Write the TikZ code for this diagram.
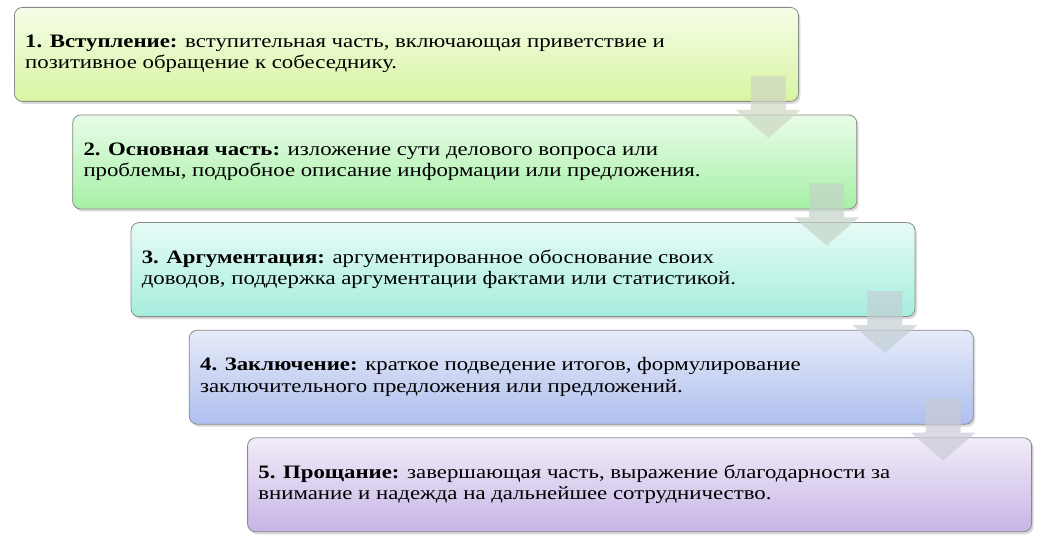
\documentclass[tikz,border=0pt]{standalone}
\usepackage{fontspec}
\setmainfont{Liberation Serif}[FakeStretch=1.2]
\usetikzlibrary{shadows}
\definecolor{c1t}{HTML}{F5FDE8}\definecolor{c1b}{HTML}{D8F5A2}
\definecolor{c2t}{HTML}{E8FCE8}\definecolor{c2b}{HTML}{A6F0A6}
\definecolor{c3t}{HTML}{E6FBF6}\definecolor{c3b}{HTML}{A6EEDD}
\definecolor{c4t}{HTML}{E6EBF9}\definecolor{c4b}{HTML}{AFBFEE}
\definecolor{c5t}{HTML}{F2ECF8}\definecolor{c5b}{HTML}{C6B5E6}
\definecolor{a1}{RGB}{205,215,195}
\definecolor{a2}{RGB}{195,212,200}
\definecolor{a3}{RGB}{195,207,212}
\definecolor{a4}{RGB}{203,203,216}
\definecolor{edge}{HTML}{8A8A8A}
\begin{document}
\begin{tikzpicture}[x=1pt,y=-1pt,
  stepbox/.style={draw=edge, line width=0.8pt, rounded corners=8pt,
    minimum width=784pt, minimum height=94pt, anchor=north west, inner sep=0pt,
    drop shadow={shadow xshift=2pt, shadow yshift=-2.5pt, opacity=0.3}},
  steptext/.style={anchor=west, align=left, inner sep=0pt,
    font=\fontsize{19}{21.5}\selectfont},
  flowarrow/.style={fill=#1, fill opacity=0.7, draw=none}]
\useasboundingbox (0,0) rectangle (1043,545);
\node[stepbox, top color=c1t, bottom color=c1b] (b1) at (14,7) {};
\node[stepbox, top color=c2t, bottom color=c2b] (b2) at (72.3,114.6) {};
\node[stepbox, top color=c3t, bottom color=c3b] (b3) at (130.6,222.2) {};
\node[stepbox, top color=c4t, bottom color=c4b] (b4) at (188.9,329.8) {};
\node[stepbox, top color=c5t, bottom color=c5b] (b5) at (247.2,437.4) {};
\node[steptext] (t1) at ([xshift=11pt,yshift=0.5pt]b1.west) {\textbf{1. Вступление:} вступительная часть, включающая приветствие и\\позитивное обращение к собеседнику.};
\node[steptext] (t2) at ([xshift=11pt,yshift=0.5pt]b2.west) {\textbf{2. Основная часть:} изложение сути делового вопроса или\\проблемы, подробное описание информации или предложения.};
\node[steptext] (t3) at ([xshift=11pt,yshift=0.5pt]b3.west) {\textbf{3. Аргументация:} аргументированное обоснование своих\\доводов, поддержка аргументации фактами или статистикой.};
\node[steptext] (t4) at ([xshift=11pt,yshift=0.5pt]b4.west) {\textbf{4. Заключение:} краткое подведение итогов, формулирование\\заключительного предложения или предложений.};
\node[steptext] (t5) at ([xshift=11pt,yshift=0.5pt]b5.west) {\textbf{5. Прощание:} завершающая часть, выражение благодарности за\\внимание и надежда на дальнейшее сотрудничество.};
\foreach \b/\c in {b1/a1,b2/a2,b3/a3,b4/a4}{
  \begin{scope}[shift={(\b.south east)}]
    \fill[flowarrow=\c] (-48,-26) -- (-13,-26) -- (-13,8) -- (2,8) -- (-30.5,36) -- (-63,8) -- (-48,8) -- cycle;
  \end{scope}
}
\end{tikzpicture}
\end{document}
